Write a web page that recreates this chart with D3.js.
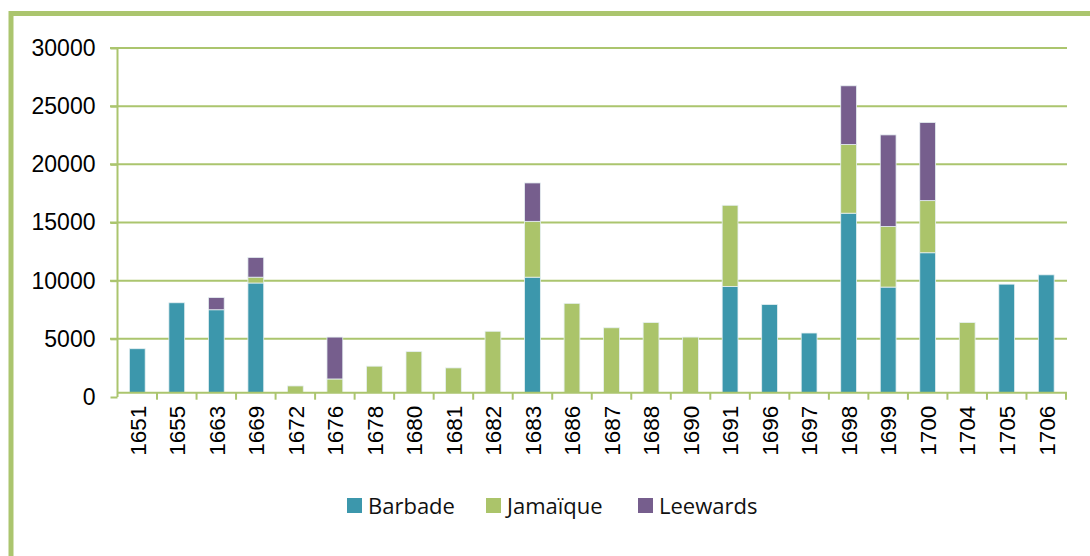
<!DOCTYPE html>
<html>
<head>
<meta charset="utf-8">
<script src="https://cdn.jsdelivr.net/npm/d3@7"></script>
<style>
  html, body { margin: 0; padding: 0; background: #fff; }
  svg { display: block; }
</style>
</head>
<body>
<svg id="chart" width="1090" height="556"></svg>
<script>
const years = ["1651","1655","1663","1669","1672","1676","1678","1680","1681","1682","1683","1686","1687","1688","1690","1691","1696","1697","1698","1699","1700","1704","1705","1706"];
const barbade  = [4150, 8100, 7500, 9800,    0,    0,    0,    0,    0,    0, 10300,    0,    0,    0,    0, 9500, 7950, 5500, 15800, 9450, 12400,    0, 9700, 10500];
const jamaique = [   0,    0,    0,  500,  950, 1550, 2650, 3900, 2500, 5650,  4800, 8050, 5950, 6400, 5150, 6980,    0,    0,  5900, 5200,  4480, 6400,    0,     0];
const leewards = [   0,    0, 1050, 1700,    0, 3600,    0,    0,    0,    0,  3300,    0,    0,    0,    0,    0,    0,    0,  5050, 7880,  6720,    0,    0,     0];
const seriesNames = ["Barbade", "Jamaïque", "Leewards"];
const colors = ["#3C97AC", "#ABC46A", "#765E8D"];
const yTicks = [0, 5000, 10000, 15000, 20000, 25000, 30000];

const svg = d3.select("#chart");
const green = "#ABC56E";

// outer frame (top and left edges visible)
svg.append("line").attr("x1", 11).attr("x2", 1090).attr("y1", 13.5).attr("y2", 13.5)
  .attr("stroke", green).attr("stroke-width", 5);
svg.append("line").attr("x1", 11).attr("x2", 11).attr("y1", 11).attr("y2", 556)
  .attr("stroke", green).attr("stroke-width", 5);

const x = d3.scaleBand().domain(years).range([117.5, 1066]).paddingInner(0.6).paddingOuter(0.3);
const y = d3.scaleLinear().domain([0, 30000]).range([397, 48]);
const axisY = y(0) - 4.3;

// gridlines
svg.append("g").selectAll("line").data(yTicks.filter(d => d > 0)).join("line")
  .attr("x1", 110).attr("x2", 1067)
  .attr("y1", d => y(d)).attr("y2", d => y(d))
  .attr("stroke", green).attr("stroke-width", 2);

// y axis
const yAxis = svg.append("g").attr("transform", "translate(117.5,0)")
  .call(d3.axisLeft(y).tickValues(yTicks).tickSize(7).tickPadding(15).tickFormat(d3.format("d")));
yAxis.select(".domain").attr("stroke", green).attr("stroke-width", 2).attr("d", `M0,${y(30000)}V${y(0)}`);
yAxis.selectAll(".tick line").attr("stroke", green).attr("stroke-width", 2);
yAxis.selectAll("text").attr("font-family", "Liberation Sans, Arial, sans-serif")
  .attr("font-size", 23).attr("fill", "#000");

// stacked bars
const rows = years.map((yr, i) => ({ year: yr, Barbade: barbade[i], "Jamaïque": jamaique[i], Leewards: leewards[i] }));
const stacked = d3.stack().keys(seriesNames)(rows);
svg.append("g").selectAll("g").data(stacked).join("g")
  .attr("fill", (d, i) => colors[i])
  .selectAll("rect").data(d => d.filter(p => p[1] - p[0] > 0)).join("rect")
  .attr("x", d => x(d.data.year))
  .attr("width", x.bandwidth())
  .attr("y", d => y(d[1]))
  .attr("height", d => Math.min(y(d[0]), axisY) - y(d[1]))
  .attr("stroke", "#E6F0F2").attr("stroke-width", 0.8);

// x axis
const step = x.step();
const xAxis = svg.append("g").attr("transform", `translate(0,${axisY})`);
xAxis.append("line").attr("x1", 117.5).attr("x2", 1067).attr("y1", 0).attr("y2", 0)
  .attr("stroke", green).attr("stroke-width", 2);
xAxis.selectAll("line.tk").data(years.map(yr => x(yr) + x.bandwidth() / 2 + step / 2)).join("line")
  .attr("class", "tk")
  .attr("x1", d => d).attr("x2", d => d).attr("y1", 0).attr("y2", 7)
  .attr("stroke", green).attr("stroke-width", 2);
xAxis.selectAll("text").data(years).join("text")
  .attr("transform", d => `translate(${x(d) + x.bandwidth() / 2 + 8.3},13) rotate(-90)`)
  .attr("text-anchor", "end")
  .attr("font-family", "Liberation Sans, Arial, sans-serif")
  .attr("font-size", 22.5).attr("fill", "#000")
  .text(d => d);

// legend
const legendX = [347, 486, 638];
const lg = svg.append("g").selectAll("g").data(seriesNames).join("g")
  .attr("transform", (d, i) => `translate(${legendX[i]},498)`);
lg.append("rect").attr("width", 15).attr("height", 15).attr("fill", (d, i) => colors[i]);
lg.append("text").attr("x", 21).attr("y", 16)
  .attr("font-family", "Open Sans, sans-serif").attr("font-size", 22).attr("fill", "#111")
  .text(d => d);
</script>
</body>
</html>
